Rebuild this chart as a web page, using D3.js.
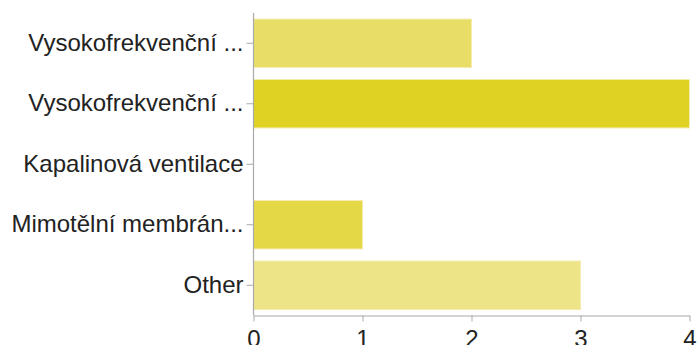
<!DOCTYPE html>
<html>
<head>
<meta charset="utf-8">
<script src="https://cdn.jsdelivr.net/npm/d3@7"></script>
<style>
  html, body { margin: 0; padding: 0; background: #fff; }
  svg { display: block; }
  text { font-family: "Liberation Sans", Arial, Helvetica, sans-serif; fill: #222; }
</style>
</head>
<body>
<svg id="chart" width="698" height="345"></svg>
<script>
// Answers and their counts
const categories = [
  "Vysokofrekvenční ...",
  "Vysokofrekvenční ...",
  "Kapalinová ventilace",
  "Mimotělní membrán...",
  "Other"
];
const counts = [2, 4, 0, 1, 3];
const barColors = ["#e8dd66", "#e0d222", "#e6da55", "#e5d846", "#ede488"];
const xTicks = [0, 1, 2, 3, 4];

const svg = d3.select("#chart");
const plotLeft = 253.5, plotRight = 689.5, plotTop = 13, plotBottom = 315.5;
const labelSize = "24px";

const x = d3.scaleLinear().domain([0, 4]).range([plotLeft, plotRight]);
const y = d3.scaleBand()
  .domain(d3.range(categories.length))
  .range([plotTop, plotBottom])
  .paddingInner(0.2)
  .paddingOuter(0.1);

// Bars
svg.append("g")
  .selectAll("rect")
  .data(counts)
  .join("rect")
  .attr("x", x(0))
  .attr("y", (d, i) => y(i))
  .attr("width", d => x(d) - x(0))
  .attr("height", y.bandwidth())
  .attr("fill", (d, i) => barColors[i])
  .attr("stroke", "#f3ecae")
  .attr("stroke-width", d => d > 0 ? 1 : 0);

// Category axis
const yAxis = d3.axisLeft(y)
  .tickFormat(i => categories[i])
  .tickSizeInner(7)
  .tickSizeOuter(0)
  .tickPadding(3);
const gy = svg.append("g")
  .attr("transform", `translate(${plotLeft},0)`)
  .call(yAxis);
gy.select(".domain").attr("stroke", "#aaa").attr("stroke-width", 1.2)
  .attr("d", `M0,${plotTop}V${plotBottom}`);
gy.selectAll(".tick line").attr("stroke", "#aaa");
gy.selectAll(".tick text")
  .attr("font-size", labelSize)
  .attr("fill", "#222")
  .attr("font-family", "'Liberation Sans', Arial, sans-serif");

// Count axis
const xAxis = d3.axisBottom(x)
  .tickValues(xTicks)
  .tickFormat(d3.format("d"))
  .tickSizeInner(6)
  .tickSizeOuter(0)
  .tickPadding(8);
const gx = svg.append("g")
  .attr("transform", `translate(0,${plotBottom})`)
  .call(xAxis);
gx.select(".domain").attr("stroke", "#aaa").attr("stroke-width", 1.2);
gx.selectAll(".tick line").attr("stroke", "#aaa");
gx.selectAll(".tick text")
  .attr("font-size", labelSize)
  .attr("fill", "#222")
  .attr("font-family", "'Liberation Sans', Arial, sans-serif");
</script>
</body>
</html>
